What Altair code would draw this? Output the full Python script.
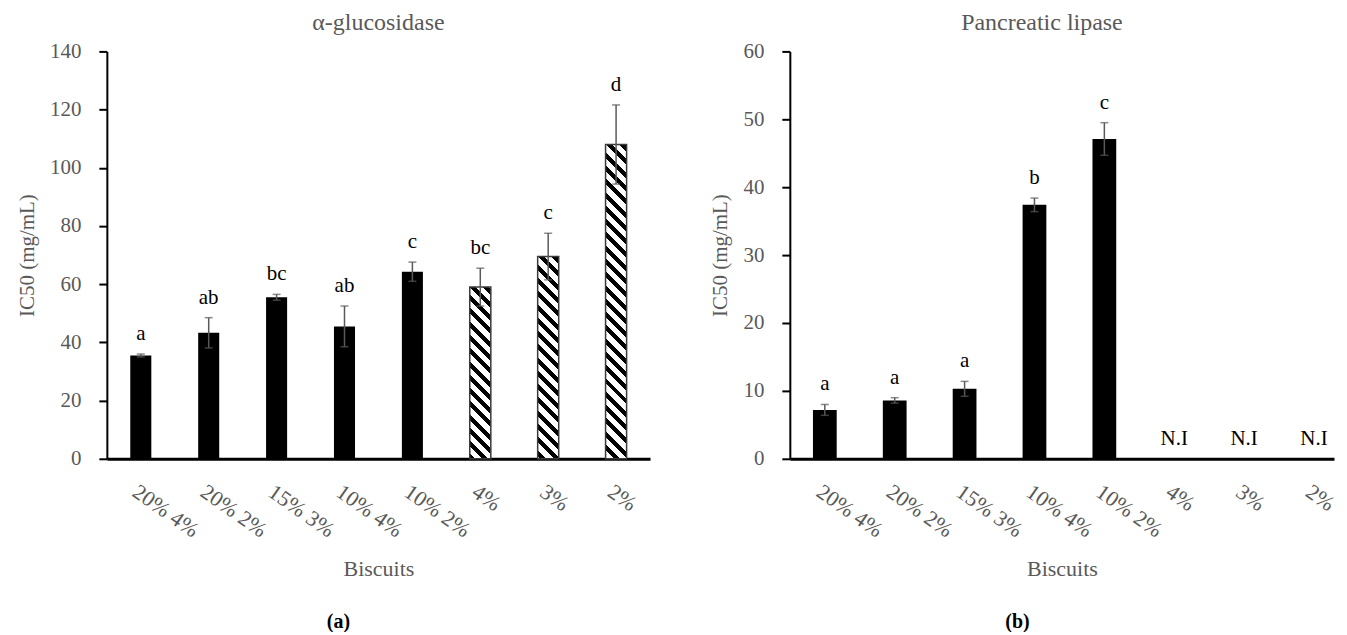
import math
import altair as alt
import pandas as pd

# ---------------- data ----------------
biscuits = ["20% 4%", "20% 2%", "15% 3%", "10% 4%", "10% 2%", "4%", "3%", "2%"]
hatched = ["4%", "3%", "2%"]

gluc_ic50 = [35.5, 43.3, 55.5, 45.5, 64.3, 59.0, 69.5, 108.0]
gluc_err = [0.5, 5.2, 1.0, 7.0, 3.3, 6.5, 8.0, 13.6]
gluc_letters = ["a", "ab", "bc", "ab", "c", "bc", "c", "d"]

lip_ic50 = [7.2, 8.6, 10.3, 37.4, 47.1, 0.0, 0.0, 0.0]
lip_err = [0.8, 0.4, 1.1, 1.0, 2.4, 0.0, 0.0, 0.0]
lip_letters = ["a", "a", "a", "b", "c", "N.I", "N.I", "N.I"]

# ---------------- style ----------------
FONT = "Liberation Serif"
GRAY = "#595959"
H = 408
W1 = 544
W2 = 545
PI1 = 0.69
PI2 = 0.66


def frame(vals, errs, letters):
    df = pd.DataFrame({"biscuit": biscuits, "value": vals, "err": errs, "letter": letters})
    df["lo"] = df["value"] - df["err"]
    df["hi"] = df["value"] + df["err"]
    return df


def hatch_gradient(w, h, period=13.3, black=6.0):
    """Diagonal '\\' stripes as a hard-stop linear gradient in bbox units."""
    L = w + h
    t = L / (w * w + h * h)
    stops = [{"offset": 0.0, "color": "white"}]
    k = math.floor((-h) / period) - 1
    while True:
        s = k * period
        e = s + black
        if s > w:
            break
        a, b = max(s, -h), min(e, w)
        if a < b:
            ta, tb = (a + h) / L, (b + h) / L
            stops += [
                {"offset": ta, "color": "white"},
                {"offset": ta, "color": "black"},
                {"offset": tb, "color": "black"},
                {"offset": tb, "color": "white"},
            ]
        k += 1
    stops.append({"offset": 1.0, "color": "white"})
    return {"gradient": "linear", "x1": 0, "y1": 1, "x2": t * w, "y2": 1 - t * h, "stops": stops}


def panel(df, ymax, major, minor, width, pinner, pouter, align, title, title_dx, tag, hatch_set):
    xscale = alt.Scale(domain=biscuits, paddingInner=pinner, paddingOuter=pouter, align=align)
    x = alt.X(
        "biscuit:N",
        sort=biscuits,
        scale=xscale,
        axis=alt.Axis(
            title="Biscuits",
            labelAngle=35,
            labelAlign="left",
            labelBaseline="top",
            labelPadding=22,
            ticks=False,
            domainColor="black",
            domainWidth=3,
            labelFont=FONT,
            labelFontSize=22,
            labelColor=GRAY,
            titleFont=FONT,
            titleFontSize=22,
            titleFontWeight="normal",
            titleColor=GRAY,
            titlePadding=18,
            labelOverlap=False,
        ),
    )
    yscale = alt.Scale(domain=[0, ymax], nice=False)
    yaxis = alt.Axis(
        title="IC50 (mg/mL)",
        values=list(range(0, ymax + 1, minor)),
        labelExpr=f"datum.value % {major} == 0 ? datum.label : ''",
        grid=False,
        domainColor="black",
        domainWidth=2,
        tickColor="black",
        tickWidth=2,
        tickSize=8,
        labelPadding=18,
        labelFont=FONT,
        labelFontSize=21,
        labelColor=GRAY,
        titleFont=FONT,
        titleFontSize=21,
        titleFontWeight="normal",
        titleColor=GRAY,
        titlePadding=12,
    )
    y = alt.Y("value:Q", scale=yscale, axis=yaxis)
    base = alt.Chart(df)

    solid = base.transform_filter(
        alt.FieldOneOfPredicate(field="biscuit", oneOf=[b for b in biscuits if b not in hatch_set])
    ).mark_bar(color="black").encode(x=x, y=y)

    layers = [solid]
    step = width / (len(biscuits) - pinner + 2 * pouter)
    bw = step * (1 - pinner)
    for b in hatch_set:
        v = float(df.loc[df["biscuit"] == b, "value"].iloc[0])
        hpx = v / ymax * H
        layers.append(
            base.transform_filter(alt.datum.biscuit == b)
            .mark_bar(fill=hatch_gradient(bw, hpx), stroke="#3a3a3a", strokeWidth=1.5)
            .encode(x=x, y=y)
        )

    eb = base.transform_filter(alt.datum.err > 0)
    rule = eb.mark_rule(color=GRAY, strokeWidth=1.5).encode(x=x, y="lo:Q", y2="hi:Q")
    cap_lo = eb.mark_tick(color=GRAY, size=8, thickness=1.5).encode(x=x, y="lo:Q")
    cap_hi = eb.mark_tick(color=GRAY, size=8, thickness=1.5).encode(x=x, y="hi:Q")
    letters = base.mark_text(
        font=FONT, fontSize=21, color="black", baseline="alphabetic", dy=-14
    ).encode(x=x, y="hi:Q", text="letter:N")
    tag_text = base.transform_filter(alt.datum.biscuit == biscuits[0]).mark_text(
        font=FONT, fontSize=20, fontWeight="bold", color="black"
    ).encode(x=alt.value(tag[1]), y=alt.value(H + 163), text=alt.value(tag[0]))

    layers += [rule, cap_lo, cap_hi, letters, tag_text]
    return alt.layer(*layers).properties(
        width=width,
        height=H,
        title=alt.TitleParams(
            title, font=FONT, fontSize=24, fontWeight="normal", color=GRAY,
            anchor="middle", frame="group", offset=5, dx=title_dx,
        ),
    )


left = panel(frame(gluc_ic50, gluc_err, gluc_letters), 140, 20, 10, W1, PI1, PI1 / 2, 0.5,
             "α-glucosidase", 0, ("(a)", 232), hatched)
right = panel(frame(lip_ic50, lip_err, lip_letters), 60, 10, 5, W2, PI2, 0.2235, 0.74,
              "Pancreatic lipase", -20, ("(b)", 228), [])

chart = (
    alt.hconcat(left, right, spacing=140, bounds="flush")
    .properties(padding={"left": 8, "top": 3, "right": 0, "bottom": 0})
    .configure_view(stroke=None)
)

chart.save("out.html", embed_options={"renderer": "svg", "actions": False})
